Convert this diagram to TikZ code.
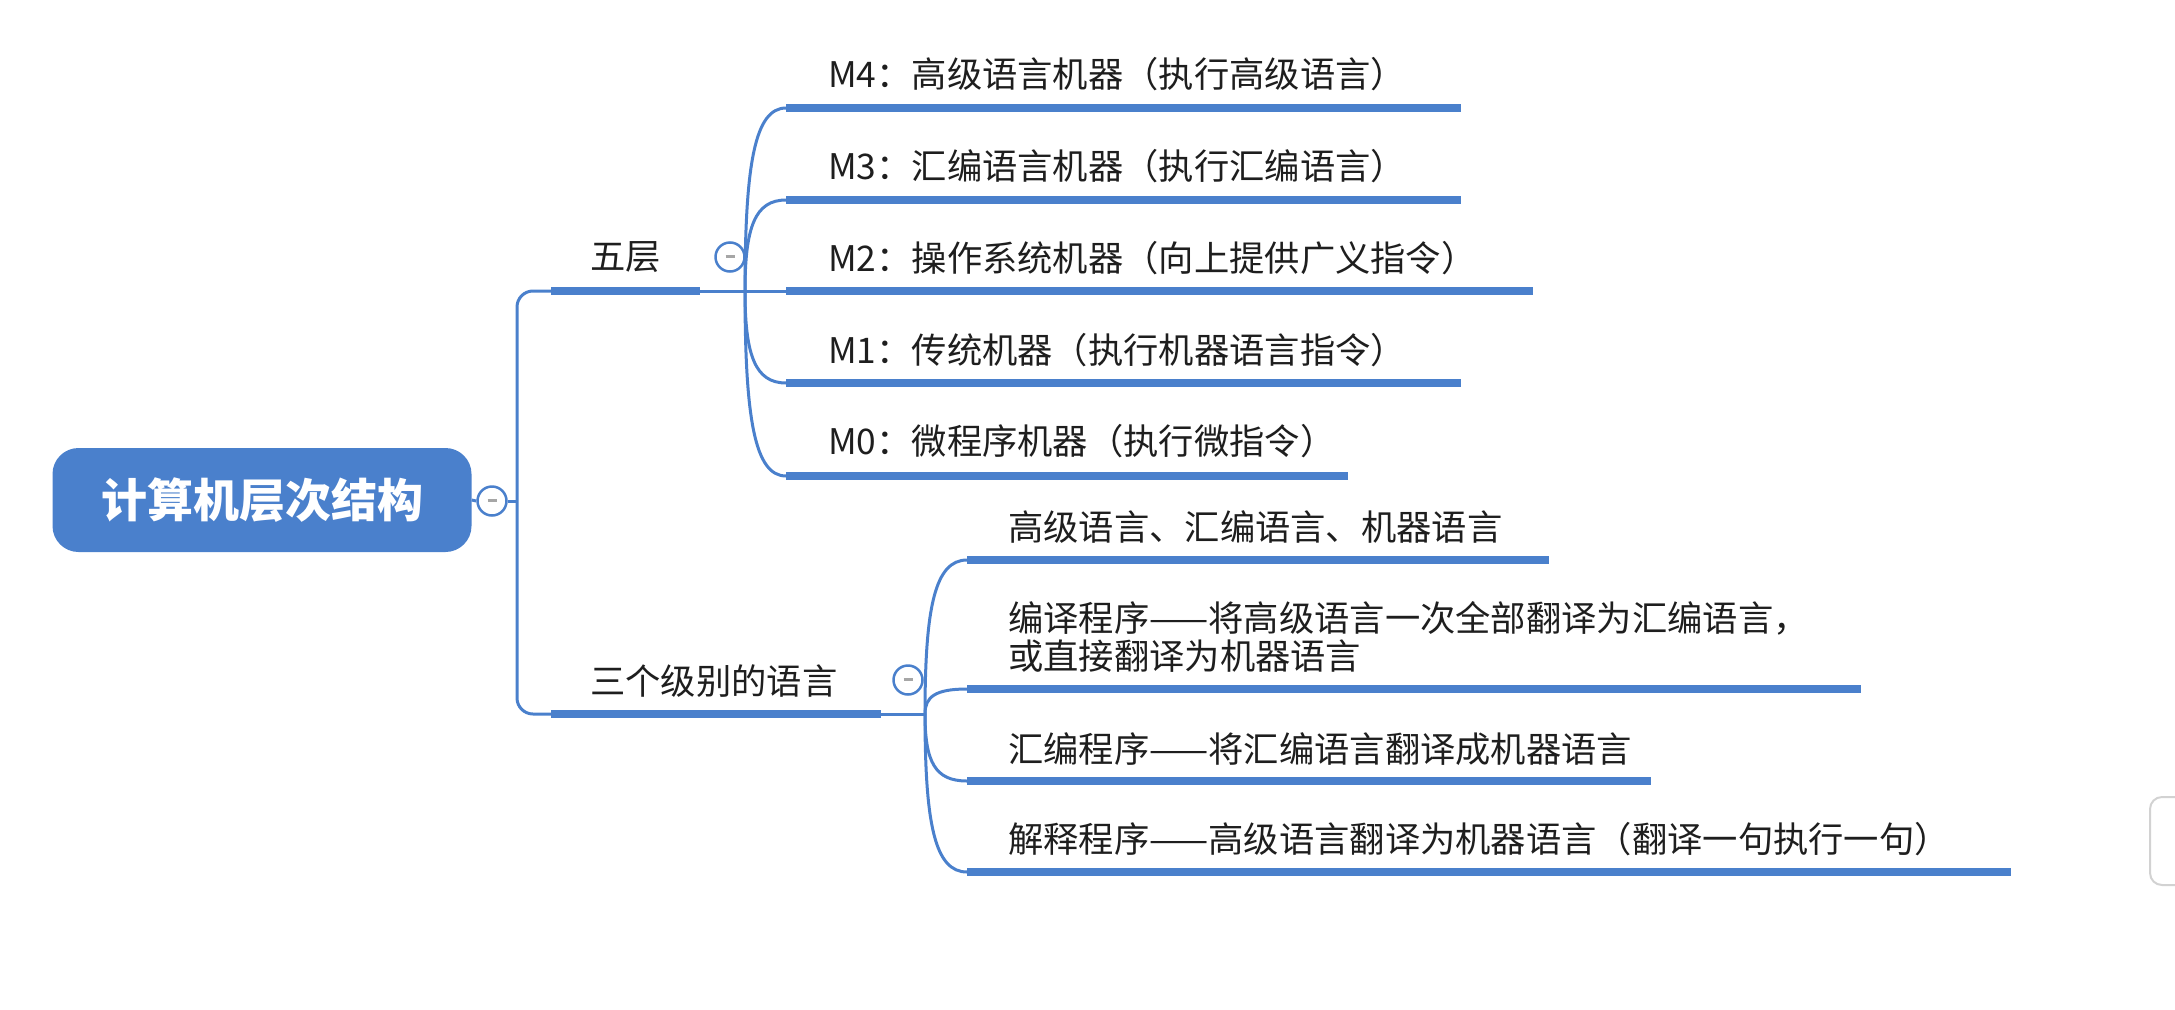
\documentclass[tikz,border=0pt]{standalone}
\usepackage{fontspec}
\newfontfamily\cjk{Noto Sans CJK SC}
\definecolor{mmblue}{HTML}{4A80CC}
\definecolor{mmtext}{HTML}{1E1E1E}
\begin{document}
\begin{tikzpicture}[x=1pt,y=-1pt,
  lbl/.style={anchor=west, inner sep=0pt, text=mmtext, align=left,
    font=\cjk\fontsize{35.3}{38}\selectfont},
  barn/.style={fill=mmblue, draw=none, inner sep=0pt, minimum height=8pt, anchor=west},
  link/.style={draw=mmblue, line width=3pt},
  toggle/.style={circle, draw=mmblue, line width=2.5pt, fill=white,
    minimum size=29pt, inner sep=0pt, text=gray!70, font=\bfseries},
  rootbox/.style={fill=mmblue, draw=none, rounded corners=26pt, minimum width=419pt,
    minimum height=104pt, text=white, font=\cjk\bfseries\fontsize{46}{50}\selectfont},
]
\useasboundingbox (0,0) rectangle (2175,1009);

% root
\node[rootbox] (root) at (262,500) {计算机层次结构};
\node[toggle] (tr) at (492,501) {\rule[0.3ex]{9pt}{2.5pt}};
\coordinate (vx) at (517,501);

% level 1
\node[barn, minimum width=149pt] (wub) at (551,291) {};
\node[lbl] (wut) at (590,257) {五层};
\node[toggle] (tw) at (730,257) {\rule[0.3ex]{9pt}{2.5pt}};
\coordinate (hw) at (745,291);

\node[barn, minimum width=330pt] (sanb) at (551,714) {};
\node[lbl] (sant) at (590,681) {三个级别的语言};
\node[toggle] (ts) at (908,680) {\rule[0.3ex]{9pt}{2.5pt}};
\coordinate (hs) at (925,714);

% five layers
\node[barn, minimum width=675pt] (b4) at (786,108) {};
\node[lbl] (t4) at (828,74) {M4：高级语言机器（执行高级语言）};
\node[barn, minimum width=675pt] (b3) at (786,200) {};
\node[lbl] (t3) at (828,166) {M3：汇编语言机器（执行汇编语言）};
\node[barn, minimum width=747pt] (b2) at (786,291) {};
\node[lbl] (t2) at (828,258) {M2：操作系统机器（向上提供广义指令）};
\node[barn, minimum width=675pt] (b1) at (786,383) {};
\node[lbl] (t1) at (828,350) {M1：传统机器（执行机器语言指令）};
\node[barn, minimum width=562pt] (b0) at (786,476) {};
\node[lbl] (t0) at (828,441) {M0：微程序机器（执行微指令）};

% three languages
\node[barn, minimum width=582pt] (c1) at (967,560) {};
\node[lbl] (u1) at (1008,527) {高级语言、汇编语言、机器语言};
\node[barn, minimum width=894pt] (c2) at (967,689) {};
\node[lbl] (u2) at (1008,637) {编译程序——将高级语言一次全部翻译为汇编语言，\\或直接翻译为机器语言};
\node[barn, minimum width=684pt] (c3) at (967,781) {};
\node[lbl] (u3) at (1008,749) {汇编程序——将汇编语言翻译成机器语言};
\node[barn, minimum width=1044pt] (c4) at (967,872) {};
\node[lbl] (u4) at (1008,839) {解释程序——高级语言翻译为机器语言（翻译一句执行一句）};

% connectors
\draw[link] (root.east) -- (tr.west);
\draw[link] (tr.east) -- (vx);
\draw[link, rounded corners=16pt] (wub.west) -| (vx) |- (sanb.west);

\draw[link] (wub.east) -- (b2.west);
\draw[link] (hw) .. controls (745,163) and (755,108) .. (b4.west);
\draw[link] (hw) .. controls (745,227) and (755,200) .. (b3.west);
\draw[link] (hw) .. controls (745,355) and (755,383) .. (b1.west);
\draw[link] (hw) .. controls (745,420) and (755,476) .. (b0.west);

\draw[link] (sanb.east) -- (hs);
\draw[link] (hs) .. controls (925,607) and (935,560) .. (c1.west);
\draw[link] (hs) .. controls (925,697) and (935,689) .. (c2.west);
\draw[link] (hs) .. controls (925,762) and (935,781) .. (c3.west);
\draw[link] (hs) .. controls (925,825) and (935,872) .. (c4.west);

% UI artefact at the right edge
\draw[gray!35, line width=2pt, rounded corners=12pt] (2210,797) -- (2150,797) -- (2150,885) -- (2210,885);
\end{tikzpicture}
\end{document}
